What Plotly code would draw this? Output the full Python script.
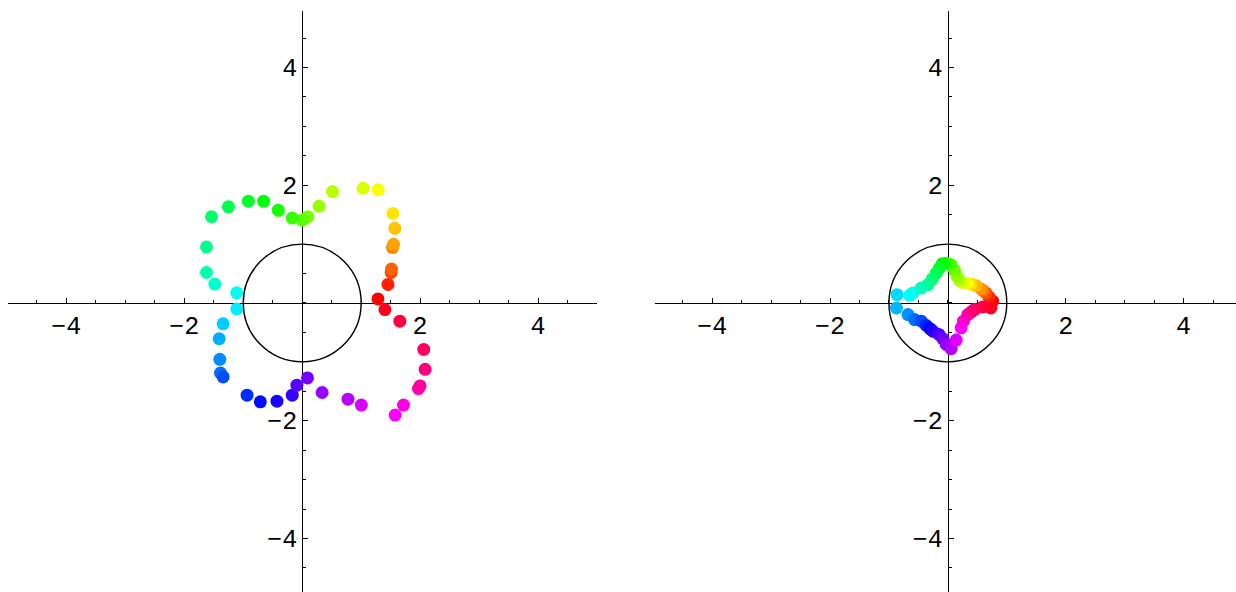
import colorsys
import plotly.graph_objects as go

# Left panel: sampled points of the first curve (counterclockwise, starting at the red point)
left_x = [1.285, 1.454, 1.510, 1.515, 1.532, 1.550, 1.572, 1.538, 1.290, 1.031,
          0.513, 0.287, 0.096, 0.000, -0.169, -0.406, -0.654, -0.913, -1.251, -1.538,
          -1.623, -1.623, -1.482, -1.110, -1.110, -1.341, -1.408, -1.397, -1.386, -1.341,
          -0.935, -0.710, -0.428, -0.169, -0.090, 0.090, 0.338, 0.777, 1.003, 1.577,
          1.718, 1.972, 2.000, 2.085, 2.062, 1.656, 1.403]
left_y = [0.068, 0.315, 0.518, 0.575, 0.941, 0.997, 1.268, 1.521, 1.927, 1.949,
          1.893, 1.645, 1.465, 1.408, 1.442, 1.577, 1.730, 1.730, 1.634, 1.465,
          0.952, 0.518, 0.321, 0.175, -0.101, -0.355, -0.608, -0.958, -1.190, -1.256,
          -1.566, -1.679, -1.668, -1.566, -1.397, -1.273, -1.521, -1.634, -1.735, -1.904,
          -1.735, -1.454, -1.410, -1.127, -0.789, -0.310, -0.113]

# Right panel: sampled points of the second curve
right_x = [0.760, 0.700, 0.648, 0.600, 0.563, 0.479, 0.400, 0.330, 0.254, 0.197,
           0.152, 0.113, 0.056, -0.028, -0.096, -0.141, -0.197, -0.265, -0.338, -0.451,
           -0.592, -0.648, -0.862, -0.873, -0.676, -0.563, -0.451, -0.366, -0.300, -0.254,
           -0.152, -0.085, -0.028, 0.056, 0.141, 0.225, 0.265, 0.338, 0.400, 0.451,
           0.592, 0.730]
right_y = [0.030, 0.100, 0.169, 0.210, 0.237, 0.293, 0.320, 0.335, 0.349, 0.383,
           0.462, 0.563, 0.648, 0.676, 0.665, 0.592, 0.507, 0.406, 0.310, 0.254,
           0.169, 0.130, 0.141, -0.085, -0.197, -0.282, -0.310, -0.383, -0.440, -0.479,
           -0.535, -0.608, -0.704, -0.777, -0.631, -0.423, -0.310, -0.197, -0.150, -0.113,
           -0.068, -0.085]

tick_vals = [-4, -2, 2, 4]
tick_text = ["\u22124", "\u22122", "2", "4"]

W, H = 1236, 592


def hue_colors(n):
    out = []
    for i in range(n):
        r, g, b = colorsys.hsv_to_rgb(i / n, 1.0, 1.0)
        out.append(f"rgb({int(round(r*255))},{int(round(g*255))},{int(round(b*255))})")
    return out


# panel geometry (paper fractions) and data ranges
panels = [
    dict(xdom=[8 / W, 597 / W], xr=[-4.99, 5.0]),
    dict(xdom=[655 / W, 1.0], xr=[-4.97, 4.89]),
]
ydom = [0.0, (H - 11) / H]
yr = [-4.91, 4.96]

fig = go.Figure()
font = dict(family="Liberation Mono", size=25, color="black")

for k, (p, xs, ys) in enumerate(zip(panels, [left_x, right_x], [left_y, right_y]), start=1):
    xa = "x" if k == 1 else f"x{k}"
    ya = "y" if k == 1 else f"y{k}"
    fig.add_trace(go.Scatter(
        x=xs, y=ys, mode="markers", xaxis=xa, yaxis=ya,
        marker=dict(size=13, color=hue_colors(len(xs)), line=dict(width=0)),
        showlegend=False, hoverinfo="skip"))
    # unit circle
    fig.add_shape(type="circle", xref=xa, yref=ya, x0=-1, y0=-1, x1=1, y1=1,
                  line=dict(color="black", width=1.4), layer="below")

    xd, xr = p["xdom"], p["xr"]
    # paper positions where the axes cross zero
    ypos = ydom[0] + (0 - yr[0]) / (yr[1] - yr[0]) * (ydom[1] - ydom[0])
    xpos = xd[0] + (0 - xr[0]) / (xr[1] - xr[0]) * (xd[1] - xd[0])

    common = dict(showgrid=False, zeroline=False, showline=True, linecolor="black",
                  linewidth=1, ticks="inside", ticklen=5, tickwidth=1, tickcolor="black",
                  tickvals=tick_vals, ticktext=tick_text, tickfont=font,
                  minor=dict(ticks="inside", ticklen=3, tickwidth=1, tickcolor="black",
                             tick0=0, dtick=0.5),
                  layer="below traces", fixedrange=True, automargin=False)
    fig.update_layout({
        ("xaxis" if k == 1 else f"xaxis{k}"): dict(
            domain=xd, range=xr, anchor="free", position=ypos, side="bottom",
            ticklabelstandoff=0, **common),
        ("yaxis" if k == 1 else f"yaxis{k}"): dict(
            domain=ydom, range=yr, anchor="free", position=xpos, side="left",
            ticklabelstandoff=0, **common),
    })

fig.update_layout(width=W, height=H, margin=dict(l=0, r=0, t=0, b=0),
                  paper_bgcolor="white", plot_bgcolor="white")

fig.write_html("out.html")
